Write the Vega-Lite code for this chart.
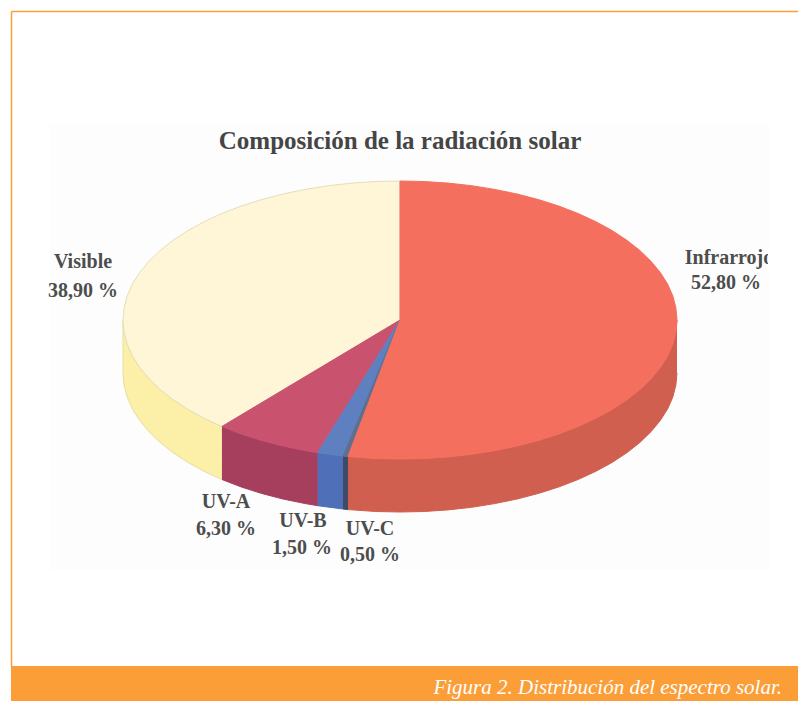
{"$schema":"https://vega.github.io/schema/vega-lite/v6.json","width":798,"height":701,"padding":0,"autosize":{"type":"none"},"background":"white","config":{"view":{"stroke":null}},
"datasets":{
"frame":[{"kind":"panel","x":50,"x2":770,"y":125,"y2":570},{"kind":"bar","x":11,"x2":798,"y":666,"y2":701}],
"edges":[{"x":11.5,"x2":798,"y":11.5,"y2":11.5},{"x":11.5,"x2":11.5,"y":11.5,"y2":666}],
"shapes":[
{"p":"Infrarrojo side","i":1,"x":677,"y":320},{"p":"Infrarrojo side","i":2,"x":675.9,"y":332.1},{"p":"Infrarrojo side","i":3,"x":672.8,"y":344.1},{"p":"Infrarrojo side","i":4,"x":667.6,"y":356},{"p":"Infrarrojo side","i":5,"x":660.3,"y":367.5},{"p":"Infrarrojo side","i":6,"x":651,"y":378.7},{"p":"Infrarrojo side","i":7,"x":639.9,"y":389.5},{"p":"Infrarrojo side","i":8,"x":626.9,"y":399.7},{"p":"Infrarrojo side","i":9,"x":612.2,"y":409.4},{"p":"Infrarrojo side","i":10,"x":595.9,"y":418.3},{"p":"Infrarrojo side","i":11,"x":578.1,"y":426.5},{"p":"Infrarrojo side","i":12,"x":558.9,"y":433.9},{"p":"Infrarrojo side","i":13,"x":538.5,"y":440.4},{"p":"Infrarrojo side","i":14,"x":517.1,"y":446},{"p":"Infrarrojo side","i":15,"x":494.7,"y":450.6},{"p":"Infrarrojo side","i":16,"x":471.7,"y":454.3},{"p":"Infrarrojo side","i":17,"x":448.1,"y":456.9},{"p":"Infrarrojo side","i":18,"x":424.2,"y":458.5},{"p":"Infrarrojo side","i":19,"x":400,"y":459},{"p":"Infrarrojo side","i":20,"x":375.8,"y":458.5},{"p":"Infrarrojo side","i":21,"x":348,"y":456.6},
{"p":"Infrarrojo side","i":22,"x":348,"y":509.6},{"p":"Infrarrojo side","i":23,"x":375.8,"y":511.5},{"p":"Infrarrojo side","i":24,"x":400,"y":512},{"p":"Infrarrojo side","i":25,"x":424.2,"y":511.5},{"p":"Infrarrojo side","i":26,"x":448.1,"y":509.9},{"p":"Infrarrojo side","i":27,"x":471.7,"y":507.3},{"p":"Infrarrojo side","i":28,"x":494.7,"y":503.6},{"p":"Infrarrojo side","i":29,"x":517.1,"y":499},{"p":"Infrarrojo side","i":30,"x":538.5,"y":493.4},{"p":"Infrarrojo side","i":31,"x":558.9,"y":486.9},{"p":"Infrarrojo side","i":32,"x":578.1,"y":479.5},{"p":"Infrarrojo side","i":33,"x":595.9,"y":471.3},{"p":"Infrarrojo side","i":34,"x":612.2,"y":462.4},{"p":"Infrarrojo side","i":35,"x":626.9,"y":452.7},{"p":"Infrarrojo side","i":36,"x":639.9,"y":442.5},{"p":"Infrarrojo side","i":37,"x":651,"y":431.7},{"p":"Infrarrojo side","i":38,"x":660.3,"y":420.5},{"p":"Infrarrojo side","i":39,"x":667.6,"y":409},{"p":"Infrarrojo side","i":40,"x":672.8,"y":397.1},{"p":"Infrarrojo side","i":41,"x":675.9,"y":385.1},{"p":"Infrarrojo side","i":42,"x":677,"y":373},
{"p":"UV-C side","i":1,"x":348,"y":456.6},{"p":"UV-C side","i":2,"x":343,"y":456},{"p":"UV-C side","i":3,"x":343,"y":509},{"p":"UV-C side","i":4,"x":348,"y":509.6},
{"p":"UV-B side","i":1,"x":343,"y":456},{"p":"UV-B side","i":2,"x":317.7,"y":452.7},{"p":"UV-B side","i":3,"x":317.7,"y":505.7},{"p":"UV-B side","i":4,"x":343,"y":509},
{"p":"UV-A side","i":1,"x":317.7,"y":452.7},{"p":"UV-A side","i":2,"x":305.3,"y":450.6},{"p":"UV-A side","i":3,"x":282.9,"y":446},{"p":"UV-A side","i":4,"x":261.5,"y":440.4},{"p":"UV-A side","i":5,"x":241.1,"y":433.9},{"p":"UV-A side","i":6,"x":221.9,"y":426.5},{"p":"UV-A side","i":7,"x":221.9,"y":479.5},{"p":"UV-A side","i":8,"x":241.1,"y":486.9},{"p":"UV-A side","i":9,"x":261.5,"y":493.4},{"p":"UV-A side","i":10,"x":282.9,"y":499},{"p":"UV-A side","i":11,"x":305.3,"y":503.6},{"p":"UV-A side","i":12,"x":317.7,"y":505.7},
{"p":"Visible side","i":1,"x":221.9,"y":426.5},{"p":"Visible side","i":2,"x":204.1,"y":418.3},{"p":"Visible side","i":3,"x":187.8,"y":409.4},{"p":"Visible side","i":4,"x":173.1,"y":399.7},{"p":"Visible side","i":5,"x":160.1,"y":389.5},{"p":"Visible side","i":6,"x":149,"y":378.7},{"p":"Visible side","i":7,"x":139.7,"y":367.5},{"p":"Visible side","i":8,"x":132.4,"y":356},{"p":"Visible side","i":9,"x":127.2,"y":344.1},{"p":"Visible side","i":10,"x":124.1,"y":332.1},{"p":"Visible side","i":11,"x":123,"y":320},{"p":"Visible side","i":12,"x":123,"y":373},{"p":"Visible side","i":13,"x":124.1,"y":385.1},{"p":"Visible side","i":14,"x":127.2,"y":397.1},{"p":"Visible side","i":15,"x":132.4,"y":409},{"p":"Visible side","i":16,"x":139.7,"y":420.5},{"p":"Visible side","i":17,"x":149,"y":431.7},{"p":"Visible side","i":18,"x":160.1,"y":442.5},{"p":"Visible side","i":19,"x":173.1,"y":452.7},{"p":"Visible side","i":20,"x":187.8,"y":462.4},{"p":"Visible side","i":21,"x":204.1,"y":471.3},{"p":"Visible side","i":22,"x":221.9,"y":479.5},
{"p":"Visible top","i":1,"x":400,"y":320},{"p":"Visible top","i":2,"x":221.9,"y":426.5},{"p":"Visible top","i":3,"x":204.1,"y":418.3},{"p":"Visible top","i":4,"x":187.8,"y":409.4},{"p":"Visible top","i":5,"x":173.1,"y":399.7},{"p":"Visible top","i":6,"x":160.1,"y":389.5},{"p":"Visible top","i":7,"x":149,"y":378.7},{"p":"Visible top","i":8,"x":139.7,"y":367.5},{"p":"Visible top","i":9,"x":132.4,"y":356},{"p":"Visible top","i":10,"x":127.2,"y":344.1},{"p":"Visible top","i":11,"x":124.1,"y":332.1},{"p":"Visible top","i":12,"x":123,"y":320},{"p":"Visible top","i":13,"x":124.1,"y":307.9},{"p":"Visible top","i":14,"x":127.2,"y":295.9},{"p":"Visible top","i":15,"x":132.4,"y":284},{"p":"Visible top","i":16,"x":139.7,"y":272.5},{"p":"Visible top","i":17,"x":149,"y":261.3},{"p":"Visible top","i":18,"x":160.1,"y":250.5},{"p":"Visible top","i":19,"x":173.1,"y":240.3},{"p":"Visible top","i":20,"x":187.8,"y":230.6},{"p":"Visible top","i":21,"x":204.1,"y":221.7},{"p":"Visible top","i":22,"x":221.9,"y":213.5},{"p":"Visible top","i":23,"x":241.1,"y":206.1},{"p":"Visible top","i":24,"x":261.5,"y":199.6},{"p":"Visible top","i":25,"x":282.9,"y":194},{"p":"Visible top","i":26,"x":305.3,"y":189.4},{"p":"Visible top","i":27,"x":328.3,"y":185.7},{"p":"Visible top","i":28,"x":351.9,"y":183.1},{"p":"Visible top","i":29,"x":375.8,"y":181.5},{"p":"Visible top","i":30,"x":400,"y":181},{"p":"Visible top","i":31,"x":400,"y":320},
{"p":"UV-A top","i":1,"x":400,"y":320},{"p":"UV-A top","i":2,"x":317.7,"y":452.7},{"p":"UV-A top","i":3,"x":305.3,"y":450.6},{"p":"UV-A top","i":4,"x":282.9,"y":446},{"p":"UV-A top","i":5,"x":261.5,"y":440.4},{"p":"UV-A top","i":6,"x":241.1,"y":433.9},{"p":"UV-A top","i":7,"x":221.9,"y":426.5},{"p":"UV-A top","i":8,"x":400,"y":320},
{"p":"UV-B top","i":1,"x":400,"y":320},{"p":"UV-B top","i":2,"x":343,"y":456},{"p":"UV-B top","i":3,"x":317.7,"y":452.7},{"p":"UV-B top","i":4,"x":400,"y":320},
{"p":"UV-C top","i":1,"x":400,"y":320},{"p":"UV-C top","i":2,"x":348,"y":456.6},{"p":"UV-C top","i":3,"x":343,"y":456},{"p":"UV-C top","i":4,"x":400,"y":320},
{"p":"Infrarrojo top","i":1,"x":400,"y":320},{"p":"Infrarrojo top","i":2,"x":400,"y":181},{"p":"Infrarrojo top","i":3,"x":424.2,"y":181.5},{"p":"Infrarrojo top","i":4,"x":448.1,"y":183.1},{"p":"Infrarrojo top","i":5,"x":471.7,"y":185.7},{"p":"Infrarrojo top","i":6,"x":494.7,"y":189.4},{"p":"Infrarrojo top","i":7,"x":517.1,"y":194},{"p":"Infrarrojo top","i":8,"x":538.5,"y":199.6},{"p":"Infrarrojo top","i":9,"x":558.9,"y":206.1},{"p":"Infrarrojo top","i":10,"x":578.1,"y":213.5},{"p":"Infrarrojo top","i":11,"x":595.9,"y":221.7},{"p":"Infrarrojo top","i":12,"x":612.2,"y":230.6},{"p":"Infrarrojo top","i":13,"x":626.9,"y":240.3},{"p":"Infrarrojo top","i":14,"x":639.9,"y":250.5},{"p":"Infrarrojo top","i":15,"x":651,"y":261.3},{"p":"Infrarrojo top","i":16,"x":660.3,"y":272.5},{"p":"Infrarrojo top","i":17,"x":667.6,"y":284},{"p":"Infrarrojo top","i":18,"x":672.8,"y":295.9},{"p":"Infrarrojo top","i":19,"x":675.9,"y":307.9},{"p":"Infrarrojo top","i":20,"x":677,"y":320},{"p":"Infrarrojo top","i":21,"x":675.9,"y":332.1},{"p":"Infrarrojo top","i":22,"x":672.8,"y":344.1},{"p":"Infrarrojo top","i":23,"x":667.6,"y":356},{"p":"Infrarrojo top","i":24,"x":660.3,"y":367.5},{"p":"Infrarrojo top","i":25,"x":651,"y":378.7},{"p":"Infrarrojo top","i":26,"x":639.9,"y":389.5},{"p":"Infrarrojo top","i":27,"x":626.9,"y":399.7},{"p":"Infrarrojo top","i":28,"x":612.2,"y":409.4},{"p":"Infrarrojo top","i":29,"x":595.9,"y":418.3},{"p":"Infrarrojo top","i":30,"x":578.1,"y":426.5},{"p":"Infrarrojo top","i":31,"x":558.9,"y":433.9},{"p":"Infrarrojo top","i":32,"x":538.5,"y":440.4},{"p":"Infrarrojo top","i":33,"x":517.1,"y":446},{"p":"Infrarrojo top","i":34,"x":494.7,"y":450.6},{"p":"Infrarrojo top","i":35,"x":471.7,"y":454.3},{"p":"Infrarrojo top","i":36,"x":448.1,"y":456.9},{"p":"Infrarrojo top","i":37,"x":424.2,"y":458.5},{"p":"Infrarrojo top","i":38,"x":400,"y":459},{"p":"Infrarrojo top","i":39,"x":375.8,"y":458.5},{"p":"Infrarrojo top","i":40,"x":348,"y":456.6},{"p":"Infrarrojo top","i":41,"x":400,"y":320}
],
"labels":[{"t":"Visible","x":83,"y":262},{"t":"38,90 %","x":83,"y":291},{"t":"Infrarrojo","x":729,"y":258},{"t":"52,80 %","x":726,"y":283},{"t":"UV-A","x":226,"y":502},{"t":"6,30 %","x":226,"y":529},{"t":"UV-B","x":303,"y":521},{"t":"1,50 %","x":302,"y":548},{"t":"UV-C","x":370,"y":529},{"t":"0,50 %","x":370,"y":555}]
},
"layer":[
{"data":{"name":"frame"},"mark":{"type":"rect"},"encoding":{"x":{"field":"x","type":"quantitative","scale":{"domain":[0,798],"range":[0,798],"nice":false,"zero":false},"axis":null},"x2":{"field":"x2"},"y":{"field":"y","type":"quantitative","scale":{"domain":[0,701],"range":[0,701],"nice":false,"zero":false},"axis":null},"y2":{"field":"y2"},"color":{"field":"kind","type":"nominal","legend":null,"scale":{"domain":["panel","bar"],"range":["#fdfdfd","#fb9e38"]}}}},
{"data":{"name":"edges"},"mark":{"type":"rule","color":"#fb9e38","strokeWidth":1.5},"encoding":{"x":{"field":"x","type":"quantitative","scale":{"domain":[0,798],"range":[0,798],"nice":false,"zero":false},"axis":null},"x2":{"field":"x2"},"y":{"field":"y","type":"quantitative","scale":{"domain":[0,701],"range":[0,701],"nice":false,"zero":false},"axis":null},"y2":{"field":"y2"}}},
{"data":{"name":"shapes"},"mark":{"type":"line","filled":true,"strokeWidth":1,"strokeJoin":"round"},"encoding":{"x":{"field":"x","type":"quantitative","scale":{"domain":[0,798],"range":[0,798],"nice":false,"zero":false},"axis":null},"y":{"field":"y","type":"quantitative","scale":{"domain":[0,701],"range":[0,701],"nice":false,"zero":false},"axis":null},"order":{"field":"i","type":"quantitative"},"detail":{"field":"p"},"fill":{"field":"p","type":"nominal","legend":null,"scale":{"domain":["Infrarrojo top","Infrarrojo side","UV-C top","UV-C side","UV-B top","UV-B side","UV-A top","UV-A side","Visible top","Visible side"],"range":["#f56f5e","#d15f50","#5f6f90","#3f4a66","#5f80c0","#4f6fb8","#c9526f","#a63f5e","#fef6d6","#fcf0a8"]}},"stroke":{"field":"p","type":"nominal","legend":null,"scale":{"domain":["Infrarrojo top","Infrarrojo side","UV-C top","UV-C side","UV-B top","UV-B side","UV-A top","UV-A side","Visible top","Visible side"],"range":["#f56f5e","#d15f50","#5f6f90","#3f4a66","#5f80c0","#4f6fb8","#c9526f","#a63f5e","#e4dfb8","#e4dfa0"]}}}},
{"data":{"name":"labels"},"mark":{"type":"text","font":"Liberation Serif","fontWeight":"bold","fontSize":20,"color":"#4d4d4d","align":"center","baseline":"middle"},"encoding":{"x":{"field":"x","type":"quantitative","scale":{"domain":[0,798],"range":[0,798],"nice":false,"zero":false},"axis":null},"y":{"field":"y","type":"quantitative","scale":{"domain":[0,701],"range":[0,701],"nice":false,"zero":false},"axis":null},"text":{"field":"t"}}},
{"data":{"values":[{"x":768,"x2":780,"y":248,"y2":270}]},"mark":{"type":"rect","color":"#ffffff"},"encoding":{"x":{"field":"x","type":"quantitative","scale":{"domain":[0,798],"range":[0,798],"nice":false,"zero":false},"axis":null},"x2":{"field":"x2"},"y":{"field":"y","type":"quantitative","scale":{"domain":[0,701],"range":[0,701],"nice":false,"zero":false},"axis":null},"y2":{"field":"y2"}}},
{"data":{"values":[{"t":"Composición de la radiación solar","x":400,"y":141}]},"mark":{"type":"text","font":"Liberation Serif","fontWeight":"bold","fontSize":25,"color":"#454545","align":"center","baseline":"middle"},"encoding":{"x":{"field":"x","type":"quantitative","scale":{"domain":[0,798],"range":[0,798],"nice":false,"zero":false},"axis":null},"y":{"field":"y","type":"quantitative","scale":{"domain":[0,701],"range":[0,701],"nice":false,"zero":false},"axis":null},"text":{"field":"t"}}},
{"data":{"values":[{"t":"Figura 2. Distribución del espectro solar.","x":782,"y":688}]},"mark":{"type":"text","font":"Liberation Serif","fontStyle":"italic","fontSize":21,"color":"#ffffff","align":"right","baseline":"middle"},"encoding":{"x":{"field":"x","type":"quantitative","scale":{"domain":[0,798],"range":[0,798],"nice":false,"zero":false},"axis":null},"y":{"field":"y","type":"quantitative","scale":{"domain":[0,701],"range":[0,701],"nice":false,"zero":false},"axis":null},"text":{"field":"t"}}}
]}
